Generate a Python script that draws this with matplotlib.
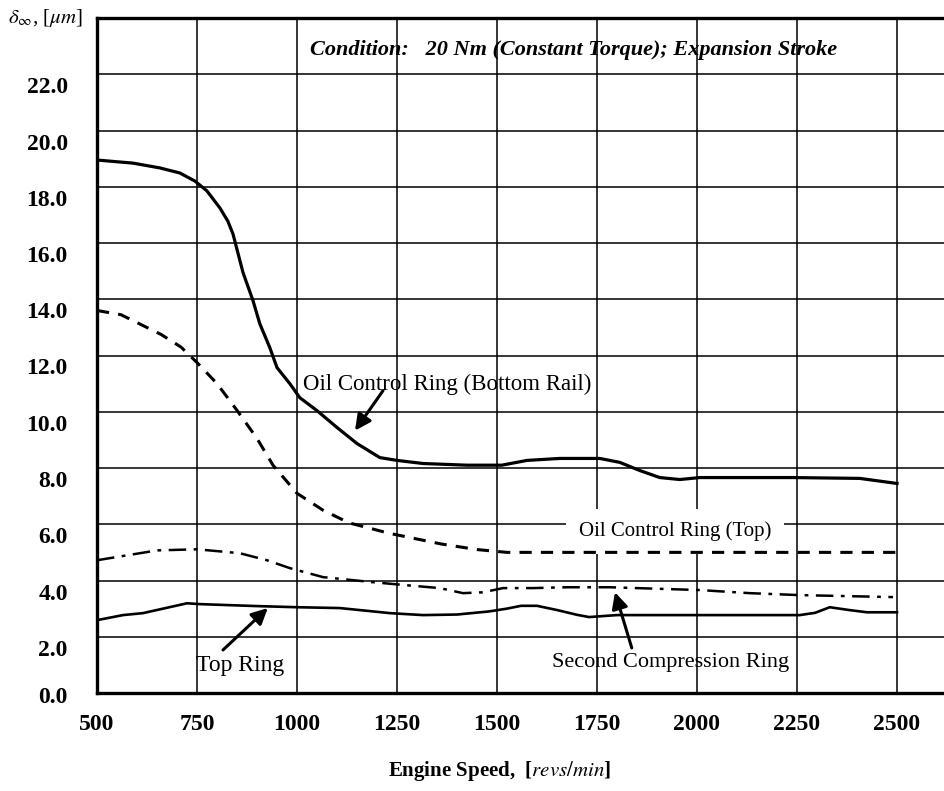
import numpy as np
import matplotlib
matplotlib.use('Agg')
import matplotlib.pyplot as plt
from matplotlib.transforms import ScaledTranslation

plt.rcParams['font.family'] = ['Liberation Serif', 'DejaVu Serif']
plt.rcParams['mathtext.fontset'] = 'stix'

# oil control ring - bottom rail
rpm_bottom = [500, 590, 657, 707, 745, 775, 807, 827, 840, 865, 890, 907, 932, 950,
              982, 1007, 1050, 1100, 1150, 1207, 1250, 1315, 1425, 1512, 1575, 1657,
              1757, 1807, 1857, 1907, 1957, 2007, 2240, 2407, 2500]
val_bottom = [18.95, 18.84, 18.67, 18.49, 18.2, 17.85, 17.25, 16.78, 16.32, 14.95, 13.95,
              13.13, 12.28, 11.57, 11.0, 10.5, 10.04, 9.44, 8.87, 8.37, 8.27, 8.16, 8.1,
              8.1, 8.27, 8.34, 8.34, 8.2, 7.91, 7.66, 7.59, 7.66, 7.66, 7.63, 7.45]

# oil control ring - top
rpm_top_oil = [500, 560, 610, 660, 710, 750, 800, 850, 900, 940, 1000, 1065,
               1130, 1230, 1360, 1450, 1525, 2000, 2500]
val_top_oil = [13.6, 13.45, 13.1, 12.75, 12.3, 11.75, 11.0, 10.05, 9.05, 8.1, 7.1, 6.5,
               6.05, 5.68, 5.3, 5.1, 5.0, 5.0, 5.0]

# second compression ring
rpm_second = [500, 650, 750, 857, 925, 982, 1065, 1190, 1275, 1357, 1415, 1465,
              1515, 1590, 1675, 1782, 2007, 2132, 2257, 2490]
val_second = [4.72, 5.07, 5.11, 4.97, 4.72, 4.44, 4.12, 3.94, 3.83, 3.73, 3.55, 3.58,
              3.73, 3.73, 3.76, 3.76, 3.66, 3.55, 3.48, 3.41]

# top ring
rpm_topring = [500, 565, 615, 725, 757, 900, 1000, 1107, 1232, 1315, 1400, 1480, 1525,
               1560, 1600, 1650, 1700, 1730, 1800, 2007, 2257, 2295, 2332, 2380, 2425, 2500]
val_topring = [2.59, 2.77, 2.84, 3.19, 3.16, 3.09, 3.05, 3.02, 2.84, 2.77, 2.79, 2.9, 3.0,
               3.1, 3.1, 2.95, 2.78, 2.7, 2.77, 2.77, 2.77, 2.85, 3.05, 2.95, 2.87, 2.87]

x_ticks = [500, 750, 1000, 1250, 1500, 1750, 2000, 2250, 2500]
y_ticks = [0, 2, 4, 6, 8, 10, 12, 14, 16, 18, 20, 22]

fig = plt.figure(figsize=(9.45, 7.91), dpi=100)
ax = fig.add_axes([97/945, 1 - 693/791, (945 - 97)/945, (693 - 18)/791])

ax.plot(rpm_bottom, val_bottom, color='black', lw=2.3)
ax.plot(rpm_top_oil, val_top_oil, color='black', lw=2.2, dashes=(4, 3))
ax.plot(rpm_second, val_second, color='black', lw=1.8, dashes=(7, 3, 1.5, 3))
ax.plot(rpm_topring, val_topring, color='black', lw=1.9)

ax.set_xlim(500, 2620)
ax.set_ylim(0, 24)
ax.set_xticks(x_ticks)
ax.set_yticks(y_ticks)
ax.set_yticklabels(['%.1f' % v for v in y_ticks])
ax.grid(True, color='black', lw=1.1)
ax.set_axisbelow(True)
ax.tick_params(length=0, labelsize=17)
ax.tick_params(axis='x', pad=15)
ax.tick_params(axis='y', pad=21)
for lab in ax.get_xticklabels() + ax.get_yticklabels():
    lab.set_fontweight('bold')

# labels of the scan sit a bit below the grid lines
for v, lab in zip(y_ticks, ax.get_yticklabels()):
    dy = -2 if v == 0 else -11
    lab.set_transform(lab.get_transform() + ScaledTranslation(0, dy/100, fig.dpi_scale_trans))

ax.spines['right'].set_visible(False)
for s in ['left', 'bottom', 'top']:
    ax.spines[s].set_linewidth(2.4)

ax.text(1032, 22.85, 'Condition:   20 Nm (Constant Torque); Expansion Stroke',
        fontsize=16, style='italic', fontweight='bold', va='center', ha='left')

arr = dict(arrowstyle='-|>', color='black', lw=2.2, mutation_scale=24, shrinkA=0, shrinkB=0)
ax.text(1015, 10.97, 'Oil Control Ring (Bottom Rail)', fontsize=16.5, va='center', ha='left')
ax.annotate('', xy=(1145, 9.33), xytext=(1215, 10.75), arrowprops=arr)
ax.text(1945, 5.75, 'Oil Control Ring (Top)', fontsize=15, va='center', ha='center', zorder=1.5,
        bbox=dict(boxstyle='square,pad=0.6', fc='white', ec='none'))
ax.text(857, 0.99, 'Top Ring', fontsize=17, va='center', ha='center')
ax.annotate('', xy=(927, 3.02), xytext=(815, 1.53), arrowprops=arr)
ax.text(1935, 1.1, 'Second Compression Ring', fontsize=16, va='center', ha='center')
ax.annotate('', xy=(1795, 3.58), xytext=(1837, 1.6), arrowprops=arr)

fig.text(8/945, 1 - 18/791, r'$\delta_{\infty}$, [$\mu m$]', fontsize=15, va='center', ha='left')
fig.text(500/945, 1 - 771/791, r'Engine Speed,  [$\mathit{revs/min}$]', fontsize=15,
         fontweight='bold', va='center', ha='center')

fig.savefig('out.png', dpi=100)
